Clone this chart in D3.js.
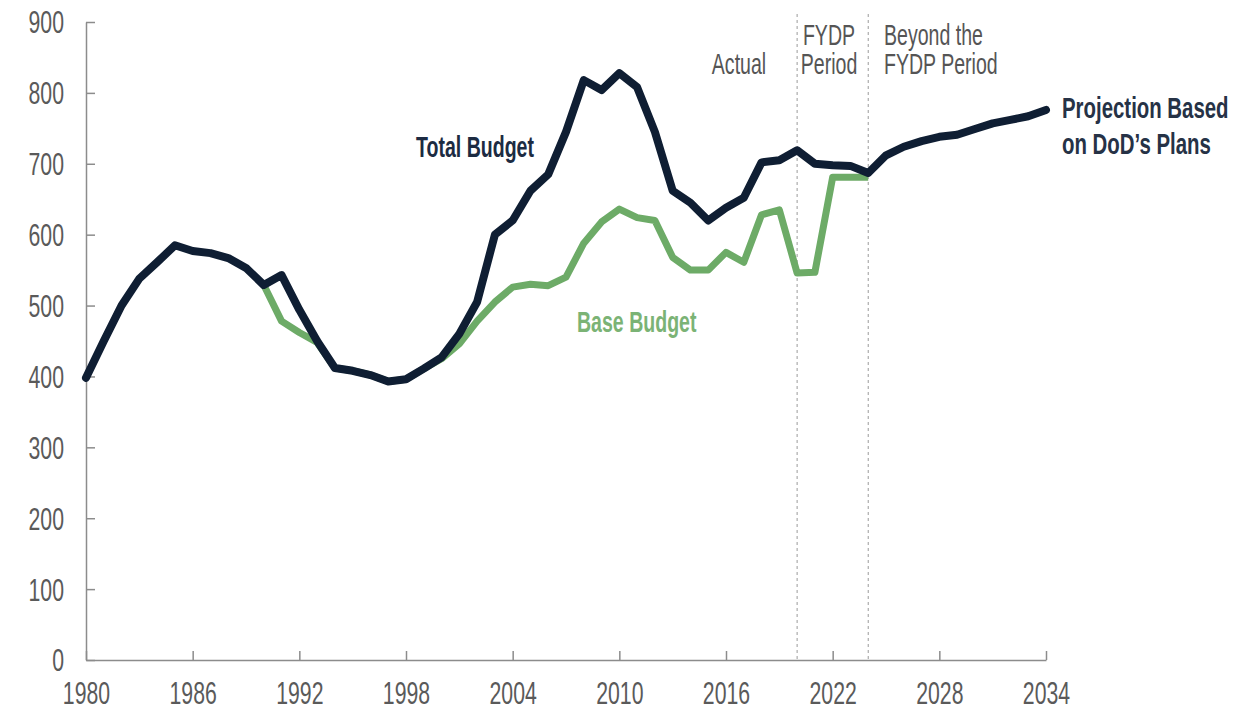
<!DOCTYPE html>
<html lang="en">
<head>
    <meta charset="UTF-8">
    <title>Total and Base Budget</title>
    <script src="https://d3js.org/d3.v7.min.js"></script>
    <style>
        body {
            margin: 0;
            padding: 0;
            background: #fff;
        }
        svg text {
            font-family: "Liberation Sans Narrow", "Arial Narrow", sans-serif;
        }
    </style>
</head>
<body>
    <div id="chart"></div>

    <script>
        // data (billions)
        const totalYears = [1980, 1981, 1982, 1983, 1984, 1985, 1986, 1987, 1988, 1989,
            1990, 1991, 1992, 1993, 1994, 1995, 1996, 1997, 1998, 1999,
            2000, 2001, 2002, 2003, 2004, 2005, 2006, 2007, 2008, 2009,
            2010, 2011, 2012, 2013, 2014, 2015, 2016, 2017, 2018, 2019,
            2020, 2021, 2022, 2023, 2024, 2025, 2026, 2027, 2028, 2029,
            2030, 2031, 2032, 2033, 2034];
        const totalBudget = [398, 450, 500, 538, 561, 585, 577, 574, 567, 553,
            529, 543, 494, 450, 412, 408, 402, 393, 396, 411,
            427, 460, 505, 600, 620, 662, 685, 745, 818, 804,
            828, 808, 745, 662, 645, 620, 638, 652, 702, 705,
            719, 700, 698, 697, 687, 712, 724, 732, 738, 741,
            749, 757, 762, 767, 776];

        const baseYears = [1990, 1991, 1992, 1993, 1994, 1995, 1996, 1997, 1998, 1999,
            2000, 2001, 2002, 2003, 2004, 2005, 2006, 2007, 2008, 2009,
            2010, 2011, 2012, 2013, 2014, 2015, 2016, 2017, 2018, 2019,
            2020, 2021, 2022, 2023, 2024];
        const baseBudget = [529, 478, 462, 448, 412, 408, 402, 393, 396, 411,
            425, 446, 478, 505, 526, 530, 528, 540, 588, 618,
            636, 624, 620, 568, 550, 550, 575, 561, 628, 635,
            546, 547, 681, 681, 681];

        const xTicks = [1980, 1986, 1992, 1998, 2004, 2010, 2016, 2022, 2028, 2034];
        const yTicks = [0, 100, 200, 300, 400, 500, 600, 700, 800, 900];
        const periodBreaks = [2020, 2024];

        const width = 1251;
        const height = 710;
        // the source font is narrower and taller than Liberation Narrow
        const sx = 0.85;
        const sy = 1.25;

        const svg = d3.select("#chart")
            .append("svg")
            .attr("width", width)
            .attr("height", height);

        const x = d3.scaleLinear().domain([1980, 2034]).range([86, 1046]);
        const y = d3.scaleLinear().domain([0, 900]).range([660, 22]);

        // dashed period separators
        svg.selectAll(".sep")
            .data(periodBreaks)
            .enter().append("line")
            .attr("class", "sep")
            .attr("x1", d => x(d)).attr("x2", d => x(d))
            .attr("y1", 14).attr("y2", y(0))
            .attr("stroke", "#9a9a9a")
            .attr("stroke-width", 1)
            .attr("stroke-dasharray", "3,3");

        // axes
        const yAxis = svg.append("g")
            .attr("transform", `translate(${x(1980)},0)`)
            .call(d3.axisLeft(y).tickValues(yTicks).tickSizeInner(-9).tickSizeOuter(0));
        yAxis.selectAll("text")
            .attr("x", -22 / sx)
            .attr("y", 0)
            .attr("dy", "0.35em")
            .attr("transform", `scale(${sx},${sy})`)
            .style("font-size", "25px")
            .attr("fill", "#5a5a5a");

        const xAxis = svg.append("g")
            .attr("transform", `translate(0,${y(0)})`)
            .call(d3.axisBottom(x).tickValues(xTicks).tickFormat(d3.format("d")).tickSizeInner(-9).tickSizeOuter(0));
        xAxis.selectAll("text")
            .attr("y", 33 / sy)
            .attr("dy", "0.35em")
            .attr("transform", `scale(${sx},${sy})`)
            .style("font-size", "25px")
            .attr("fill", "#5a5a5a");

        svg.selectAll(".domain, .tick line")
            .attr("stroke", "#8c8c8c")
            .attr("stroke-width", 1.5);

        // lines
        const line = d3.line()
            .x(d => x(d[0]))
            .y(d => y(d[1]));

        svg.append("path")
            .datum(d3.zip(baseYears, baseBudget))
            .attr("d", line)
            .attr("fill", "none")
            .attr("stroke", "#6dab67")
            .attr("stroke-width", 7)
            .attr("stroke-linejoin", "round");

        svg.append("path")
            .datum(d3.zip(totalYears, totalBudget))
            .attr("d", line)
            .attr("fill", "none")
            .attr("stroke", "#0f1e33")
            .attr("stroke-width", 8)
            .attr("stroke-linejoin", "round")
            .attr("stroke-linecap", "round");

        // labels
        function label(px, py, lines, opts) {
            const g = svg.append("g")
                .attr("transform", `translate(${px},${py}) scale(${sx},${sy})`);
            const t = g.append("text")
                .attr("text-anchor", opts.anchor || "start")
                .attr("fill", opts.color)
                .style("font-size", opts.size + "px")
                .style("font-weight", opts.weight || "normal");
            lines.forEach((s, i) => {
                t.append("tspan")
                    .attr("x", 0)
                    .attr("y", i * (opts.gap || 0) / sy)
                    .text(s);
            });
        }

        label(739, 74, ["Actual"], {color: "#555", size: 23, anchor: "middle"});
        label(829, 45, ["FYDP", "Period"], {color: "#555", size: 23, anchor: "middle", gap: 29});
        label(884, 45, ["Beyond the", "FYDP Period"], {color: "#555", size: 23, gap: 29});
        label(416, 157, ["Total Budget"], {color: "#1c2b42", size: 23, weight: "bold"});
        label(577, 332, ["Base Budget"], {color: "#7bb375", size: 23, weight: "bold"});
        label(1062, 118, ["Projection Based", "on DoD\u2019s Plans"], {color: "#263246", size: 24, weight: "bold", gap: 36});
    </script>
</body>
</html>
